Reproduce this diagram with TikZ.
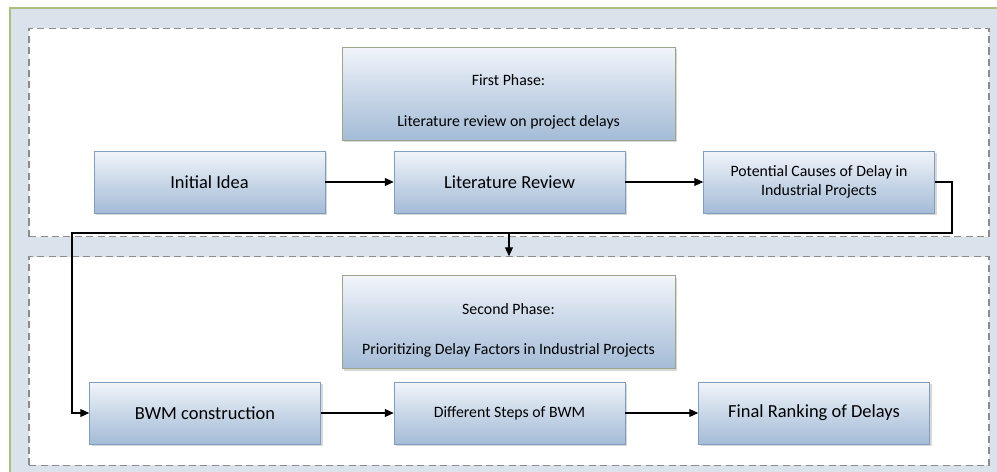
\documentclass[tikz,border=0pt]{standalone}
\usepackage{fontspec}
\setmainfont{Carlito}
\usepackage{tikz}
\usetikzlibrary{arrows.meta, shadows}
\definecolor{bgblue}{HTML}{DAE3EC}
\definecolor{bggreen}{HTML}{A9C07F}
\definecolor{boxtop}{HTML}{F2F5FA}
\definecolor{boxmid}{HTML}{C9D7E8}
\definecolor{boxbot}{HTML}{A4BCD7}
\definecolor{boxline}{HTML}{7F9DBF}
\definecolor{phaseline}{HTML}{9AA58C}
\tikzstyle{panel} = [rectangle, draw=black!45, line width=0.7pt, dash pattern=on 4pt off 2.5pt, fill=white, minimum width=19.2cm, minimum height=4.17cm]
\tikzstyle{process} = [rectangle, minimum width=4.62cm, minimum height=1.24cm, text centered, align=center, draw=boxline, top color=boxtop, bottom color=boxbot, middle color=boxmid, drop shadow={shadow xshift=1.2pt, shadow yshift=-1.2pt, fill=black!30, opacity=.5}]
\tikzstyle{phase} = [process, minimum width=6.66cm, minimum height=1.86cm, draw=phaseline, font=\fontsize{9}{10}\selectfont]
\tikzstyle{big} = [font=\fontsize{10.5}{12.5}\selectfont]
\tikzstyle{small} = [font=\fontsize{9}{11}\selectfont]
\tikzstyle{arrow} = [line width=0.6pt, -{Triangle[length=5pt, width=4.5pt]}]
\begin{document}
\begin{tikzpicture}[x=0.02cm, y=-0.02cm]
        \useasboundingbox (0,0) rectangle (997,472);
        \fill[bgblue] (10,8) rectangle (997,472);
        \draw[bggreen, line width=0.8pt] (10,472) -- (10,8) -- (997,8);
        % first phase
        \node (panelA) [panel] at (509,132.5) {};
        \node (phaseA) [phase] at (508.5,93.5) {\rule{0pt}{16pt}First Phase:\\[13pt]Literature review on project delays};
        \node (idea) [process, big] at (209.5,182) {Initial Idea};
        \node (litrev) [process, big] at (509.5,182) {Literature Review};
        \node (causes) [process, small] at (819,182) {Potential Causes of Delay in\\Industrial Projects};
        \draw [arrow] (idea) -- (litrev);
        \draw [arrow] (litrev) -- (causes);
        % second phase
        \node (panelB) [panel] at (509,361) {};
        \node (phaseB) [phase] at (508.5,322) {\rule{0pt}{16pt}Second Phase:\\[13pt]Prioritizing Delay Factors in Industrial Projects};
        \node (bwm) [process, big] at (205,413) {BWM construction};
        \node (steps) [process, small] at (509.5,413) {Different Steps of BWM};
        \node (rank) [process, big] at (814,413) {Final Ranking of Delays};
        \draw [arrow] (bwm) -- (steps);
        \draw [arrow] (steps) -- (rank);
        % link between phases
        \coordinate (turnR) at (952,233);
        \coordinate (turnL) at (72,233);
        \coordinate (drop) at (509,233);
        \draw [arrow] (causes.east) -| (turnR) -- (turnL) |- (bwm.west);
        \draw [arrow] (drop) -- (panelB.north);
      \end{tikzpicture}
\end{document}
